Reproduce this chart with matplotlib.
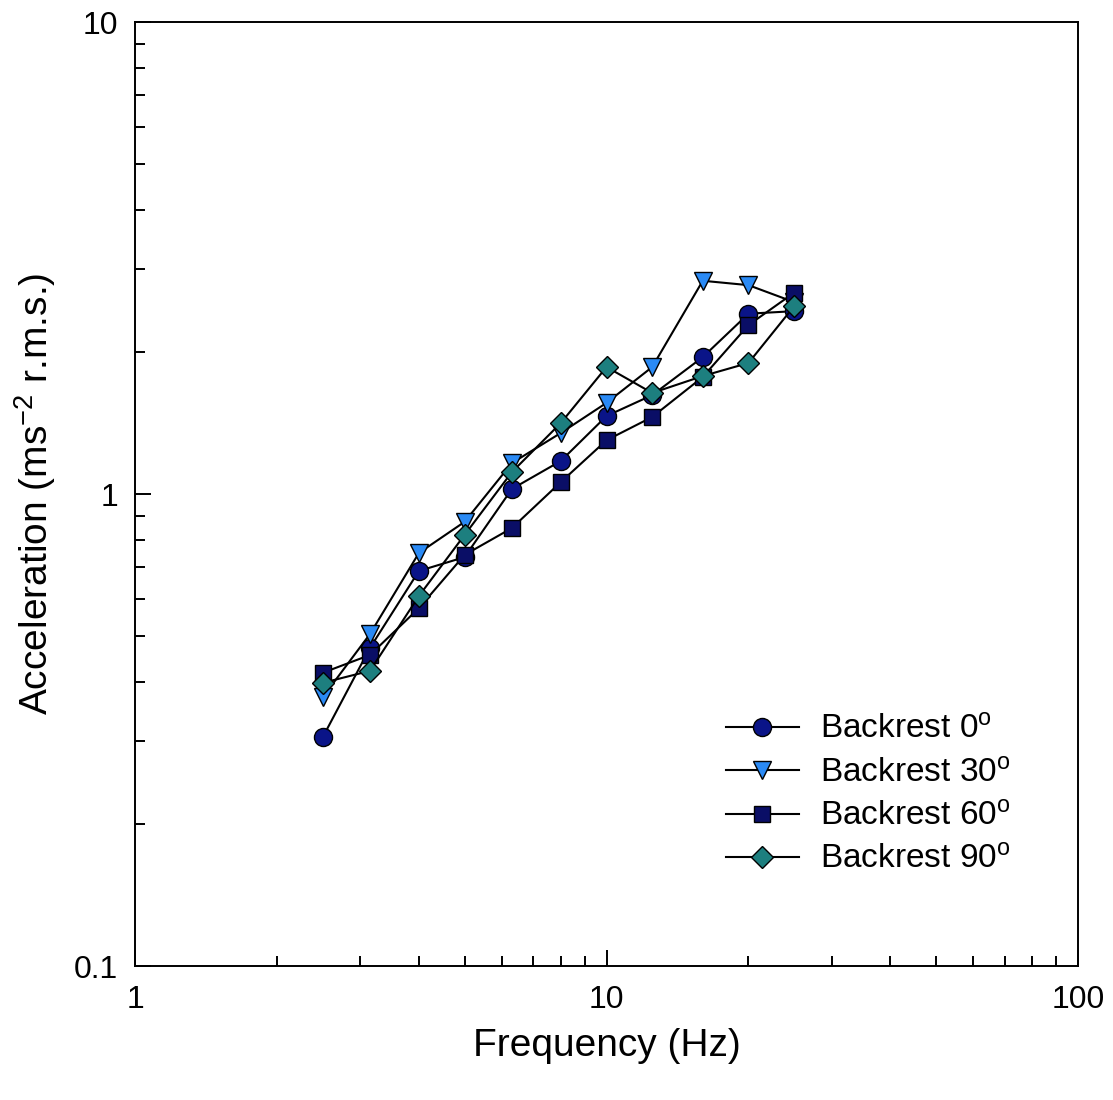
import matplotlib
matplotlib.use("Agg")
import matplotlib.pyplot as plt
from matplotlib.ticker import FixedLocator, NullFormatter, LogLocator

plt.rcParams["font.family"] = ["Liberation Sans", "DejaVu Sans"]
plt.rcParams["mathtext.fontset"] = "custom"
plt.rcParams["mathtext.rm"] = "Liberation Sans"
plt.rcParams["mathtext.it"] = "Liberation Sans"

# 1/3-octave band centre frequencies (Hz)
freq = [2.5, 3.15, 4, 5, 6.3, 8, 10, 12.5, 16, 20, 25]

# r.m.s. acceleration per backrest angle
acc_0 = [0.305, 0.472, 0.687, 0.735, 1.025, 1.175, 1.463, 1.62, 1.95, 2.41, 2.44]
acc_30 = [0.371, 0.505, 0.750, 0.873, 1.163, 1.347, 1.56, 1.858, 2.83, 2.77, 2.55]
acc_60 = [0.418, 0.456, 0.573, 0.743, 0.847, 1.06, 1.30, 1.456, 1.77, 2.28, 2.67]
acc_90 = [0.398, 0.422, 0.608, 0.819, 1.113, 1.414, 1.858, 1.637, 1.778, 1.895, 2.50]

labels = ["Backrest 0$^{\\rm o}$", "Backrest 30$^{\\rm o}$",
          "Backrest 60$^{\\rm o}$", "Backrest 90$^{\\rm o}$"]

fig = plt.figure(figsize=(11.13, 11.0), dpi=100)
ax = fig.add_axes([0.1213, 0.1218, 0.8473, 0.8582])

styles = [
    ("o", "#0a1488", 13),
    ("v", "#2a8af5", 13),
    ("s", "#0a0e66", 11.5),
    ("D", "#1d7f7f", 11),
]
for series, label, (mk, col, ms) in zip([acc_0, acc_30, acc_60, acc_90], labels, styles):
    ax.plot(freq, series, color="black", linewidth=1.5, marker=mk, markersize=ms,
            markerfacecolor=col, markeredgecolor="black", markeredgewidth=1.0,
            label=label)

ax.set_xscale("log")
ax.set_yscale("log")
ax.set_xlim(1, 100)
ax.set_ylim(0.1, 10)

ax.xaxis.set_major_locator(FixedLocator([1, 10, 100]))
ax.set_xticklabels(["1", "10", "100"])
ax.yaxis.set_major_locator(FixedLocator([0.1, 1, 10]))
ax.set_yticklabels(["0.1", "1", "10"])
ax.xaxis.set_minor_locator(LogLocator(base=10, subs=range(2, 10)))
ax.yaxis.set_minor_locator(LogLocator(base=10, subs=range(2, 10)))
ax.xaxis.set_minor_formatter(NullFormatter())
ax.yaxis.set_minor_formatter(NullFormatter())

ax.tick_params(axis="both", which="major", direction="in", length=11.5, width=1.4,
               labelsize=23)
ax.tick_params(axis="x", which="major", pad=14)
ax.tick_params(axis="y", which="major", pad=12)
ax.tick_params(axis="both", which="minor", direction="in", length=7, width=1.4)
for sp in ax.spines.values():
    sp.set_linewidth(1.4)

ax.set_xlabel("Frequency (Hz)", fontsize=28)
ax.set_ylabel("Acceleration (ms$^{-2}$ r.m.s.)", fontsize=28)
ax.xaxis.set_label_coords(0.5, -0.066)
ax.yaxis.set_label_coords(-0.082, 0.5)

ax.legend(loc="center left", bbox_to_anchor=(0.652, 0.277),
          bbox_transform=fig.transFigure, frameon=False, borderpad=0,
          borderaxespad=0, fontsize=24, handlelength=2.2, labelspacing=0.37,
          handletextpad=0.62)

fig.savefig("out.png", dpi=100)
